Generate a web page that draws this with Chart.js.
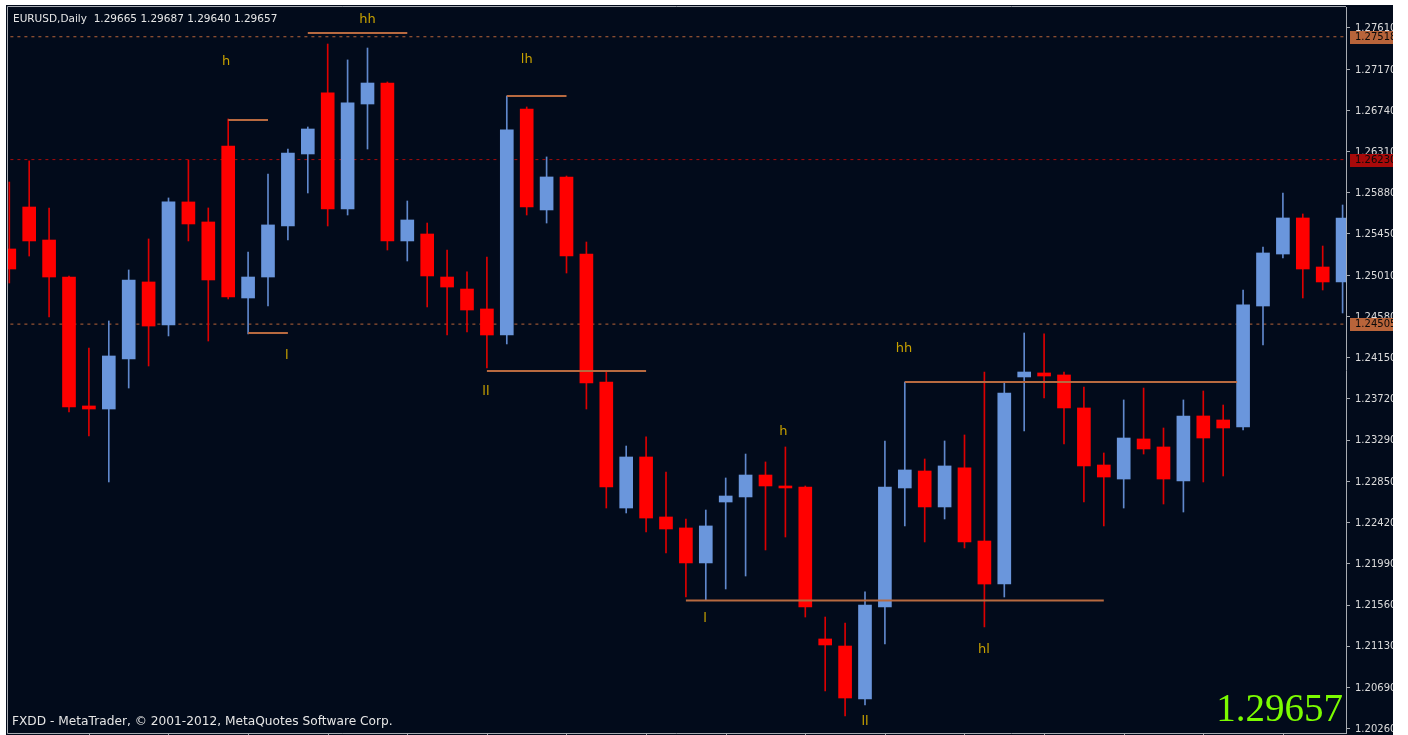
<!DOCTYPE html>
<html>
<head>
<meta charset="utf-8">
<script src="https://cdn.jsdelivr.net/npm/chart.js@4.4.1/dist/chart.umd.min.js"></script>
<style>
  html, body { margin: 0; padding: 0; background: #fff; }
  canvas { display: block; }
</style>
</head>
<body>
<canvas id="c" width="1408" height="735"></canvas>
<script>
// EURUSD daily candles (index 0 = leftmost, partly hidden)
const highs  = [1.25995,1.26216,1.25723,1.25010,1.24255,1.24538,1.25073,1.25398,1.25828,1.26226,
                1.25723,1.26656,1.25261,1.26079,1.26341,1.26572,1.27442,1.27275,1.27400,1.27044,
                1.25796,1.25565,1.25282,1.25052,1.25209,1.26897,1.26782,1.26258,1.26058,1.25366,
                1.24003,1.23227,1.23322,1.22955,1.22462,1.22556,1.22892,1.23143,1.23060,1.23217,
                1.22808,1.21434,1.21371,1.21697,1.23280,1.23898,1.23091,1.23280,1.23343,1.24003,
                1.23898,1.24412,1.24402,1.24003,1.23846,1.23154,1.23710,1.23835,1.23416,1.23710,
                1.23804,1.23657,1.24863,1.25314,1.25880,1.25660,1.25324,1.25754];
const opens  = [1.25293,1.25733,1.25387,1.24999,1.23647,1.23615,1.24140,1.24947,1.24496,1.25786,
                1.25576,1.26373,1.24779,1.24999,1.25534,1.26289,1.26929,1.25712,1.26813,1.27033,
                1.25377,1.25450,1.24999,1.24873,1.24664,1.24391,1.26761,1.25702,1.26048,1.25240,
                1.23898,1.22577,1.23112,1.22483,1.22368,1.22001,1.22640,1.22693,1.22923,1.22808,
                1.22797,1.21204,1.21130,1.20575,1.21539,1.22787,1.22965,1.22588,1.22997,1.22231,
                1.21780,1.23951,1.23993,1.23972,1.23626,1.23028,1.22881,1.23301,1.23217,1.22860,
                1.23542,1.23500,1.23427,1.24695,1.25240,1.25618,1.25104,1.24947];
const closes = [1.25083,1.25377,1.24999,1.23636,1.23615,1.24171,1.24968,1.24485,1.25786,1.25555,
                1.24968,1.24790,1.24999,1.25545,1.26299,1.26551,1.25712,1.26824,1.27033,1.25377,
                1.25597,1.25010,1.24894,1.24653,1.24391,1.26541,1.25733,1.26048,1.25219,1.23888,
                1.22797,1.23112,1.22472,1.22357,1.22001,1.22389,1.22703,1.22923,1.22808,1.22787,
                1.21539,1.21141,1.20585,1.21560,1.22797,1.22976,1.22588,1.23018,1.22221,1.21780,
                1.23783,1.24003,1.23961,1.23626,1.23018,1.22902,1.23311,1.23196,1.22881,1.23542,
                1.23311,1.23416,1.24706,1.25251,1.25618,1.25083,1.24947,1.25618];
const lows   = [1.24936,1.25219,1.24580,1.23584,1.23332,1.22850,1.23835,1.24066,1.24381,1.25377,
                1.24328,1.24769,1.24402,1.24695,1.25387,1.25880,1.25534,1.25649,1.26341,1.25282,
                1.25167,1.24685,1.24391,1.24423,1.24045,1.24297,1.25649,1.25565,1.25041,1.23615,
                1.22577,1.22525,1.22326,1.22105,1.21644,1.21613,1.21728,1.21864,1.22137,1.22273,
                1.21434,1.20659,1.20396,1.20512,1.21151,1.22389,1.22221,1.22462,1.22158,1.21330,
                1.21644,1.23385,1.23731,1.23248,1.22640,1.22389,1.22577,1.23143,1.22619,1.22535,
                1.22850,1.22913,1.23395,1.24286,1.25199,1.24779,1.24863,1.24622];

// price axis tick labels
const yTicks = [1.27610,1.27170,1.26740,1.26310,1.25880,1.25450,1.25010,1.24580,1.24150,
                1.23720,1.23290,1.22850,1.22420,1.21990,1.21560,1.21130,1.20690,1.20260];
// time axis tick marks (every 4th bar)
const xTicks = [4,8,12,16,20,24,28,32,36,40,44,48,52,56,60,64];

// dashed horizontal price levels with their boxes on the axis
const levelValues = [1.27518, 1.26230, 1.24505];
const levelColors = ['#b8643a', '#a80a0a', '#b8643a'];

// swing lines: start index, end index, price
const segStart = [15, 11, 12, 25, 24, 34, 45];
const segEnd   = [20, 13, 14, 28, 32, 55, 61.7];
const segPrice = [1.27558, 1.26645, 1.24412, 1.26897, 1.24014, 1.21607, 1.23898];

// swing labels
const markText  = ['hh', 'h', 'l', 'lh', 'll', 'hh', 'h', 'l', 'll', 'hl'];
const markIdx   = [18.0, 10.9, 13.95, 26.0, 23.95, 44.96, 38.9, 34.96, 43.0, 48.98];
const markPrice = [1.27694, 1.27254, 1.24171, 1.27275, 1.23793, 1.24244, 1.23374, 1.21413, 1.20333, 1.21088];

const headerText = 'EURUSD,Daily  1.29665 1.29687 1.29640 1.29657';
const footerText = 'FXDD - MetaTrader, \u00A9 2001-2012, MetaQuotes Software Corp.';
const bigPrice = '1.29657';

const UP = '#6a96dc', UP_WICK = '#6088cc';
const DN = '#ff0000', DN_WICK = '#dd0000';
const FRAME = '#a8acb2';

const idx = highs.map((_, i) => i);
const isUp = idx.map(i => closes[i] >= opens[i]);

const datasets = [];

// dashed levels (back)
levelValues.forEach((v, k) => {
  datasets.push({
    type: 'line', order: 5,
    data: [{x: -1, y: v}, {x: 70, y: v}],
    borderColor: levelColors[k], borderWidth: 1, borderDash: [3, 4],
    pointRadius: 0
  });
});

// wicks
datasets.push({
  type: 'bar', order: 4, grouped: false,
  data: idx.map(i => ({x: i, y: [lows[i], highs[i]]})),
  backgroundColor: idx.map(i => isUp[i] ? UP_WICK : DN_WICK),
  barThickness: 1
});
// bodies
datasets.push({
  type: 'bar', order: 3, grouped: false,
  data: idx.map(i => ({x: i, y: [opens[i], closes[i]]})),
  backgroundColor: idx.map(i => isUp[i] ? UP : DN),
  barThickness: 13
});

// swing lines (front)
segPrice.forEach((p, k) => {
  datasets.push({
    type: 'line', order: 1,
    data: [{x: segStart[k], y: p}, {x: segEnd[k], y: p}],
    borderColor: '#b86a40', borderWidth: 2, pointRadius: 0
  });
});

const panelPlugin = {
  id: 'panel',
  beforeDraw(chart) {
    const c = chart.ctx;
    c.save();
    c.fillStyle = '#ffffff';
    c.fillRect(0, 0, chart.width, chart.height);
    c.fillStyle = '#020b1b';
    c.fillRect(6, 5, 1387, 730);
    c.restore();
  },
  afterDatasetsDraw(chart) {
    const c = chart.ctx, x = chart.scales.x, y = chart.scales.y;
    c.save();
    c.font = '13px "DejaVu Sans"';
    c.fillStyle = '#c8a200';
    c.textAlign = 'center';
    c.textBaseline = 'middle';
    markText.forEach((t, k) => {
      c.fillText(t, x.getPixelForValue(markIdx[k]), y.getPixelForValue(markPrice[k]));
    });
    c.restore();
  },
  afterDraw(chart) {
    const c = chart.ctx, a = chart.chartArea, x = chart.scales.x, y = chart.scales.y;
    c.save();
    // frame: left, top, bottom + bottom ticks
    c.strokeStyle = FRAME;
    c.lineWidth = 1;
    c.beginPath();
    c.moveTo(a.left - 0.5, a.bottom + 0.5); c.lineTo(a.left - 0.5, a.top - 0.5); c.lineTo(a.right, a.top - 0.5);
    c.moveTo(a.left - 0.5, a.bottom + 0.5); c.lineTo(a.right, a.bottom + 0.5);
    xTicks.forEach(v => {
      const px = Math.round(x.getPixelForValue(v)) + 0.5;
      c.moveTo(px, a.bottom); c.lineTo(px, chart.height);
    });
    c.stroke();
    // price boxes
    c.font = '10px "DejaVu Sans"';
    c.textBaseline = 'middle';
    c.textAlign = 'left';
    levelValues.forEach((v, k) => {
      const py = Math.round(y.getPixelForValue(v));
      c.fillStyle = levelColors[k];
      c.fillRect(a.right + 4, py - 6, 50, 13);
      c.fillStyle = '#0a0a0a';
      c.fillText(v.toFixed(5), a.right + 9, py + 0.5);
    });
    // header / footer
    c.fillStyle = '#e6e6e6';
    c.font = '10.5px "DejaVu Sans"';
    c.fillText(headerText, 13, 19);
    c.font = '12.2px "DejaVu Sans"';
    c.fillText(footerText, 12, 722);
    // current price
    c.fillStyle = '#7cfc00';
    c.font = '39px "Liberation Serif"';
    c.textAlign = 'right';
    c.textBaseline = 'alphabetic';
    c.fillText(bigPrice, 1343, 721);
    // white margin right of the window
    c.fillStyle = '#ffffff';
    c.fillRect(1393, 0, 15, chart.height);
    c.restore();
  }
};

new Chart(document.getElementById('c'), {
  type: 'bar',
  data: {datasets},
  plugins: [panelPlugin],
  options: {
    responsive: false,
    animation: false,
    devicePixelRatio: 1,
    layout: {padding: {left: 8, top: 7, right: 0, bottom: 2}},
    plugins: {legend: {display: false}, tooltip: {enabled: false}},
    scales: {
      x: {
        type: 'linear', min: -0.0653, max: 67.171, offset: false, display: false,
        grid: {offset: false}
      },
      y: {
        type: 'linear', position: 'right', min: 1.20218, max: 1.27830,
        afterBuildTicks: s => { s.ticks = yTicks.map(v => ({value: v})); },
        afterFit: s => { s.width = 62; s.paddingTop = 0; s.paddingBottom = 0; },
        ticks: {
          color: '#dcdcdc', padding: 5, autoSkip: false,
          font: {family: 'DejaVu Sans', size: 10},
          callback: v => Number(v).toFixed(5)
        },
        grid: {drawOnChartArea: false, tickLength: 4, color: FRAME},
        border: {color: FRAME}
      }
    }
  }
});
</script>
</body>
</html>
